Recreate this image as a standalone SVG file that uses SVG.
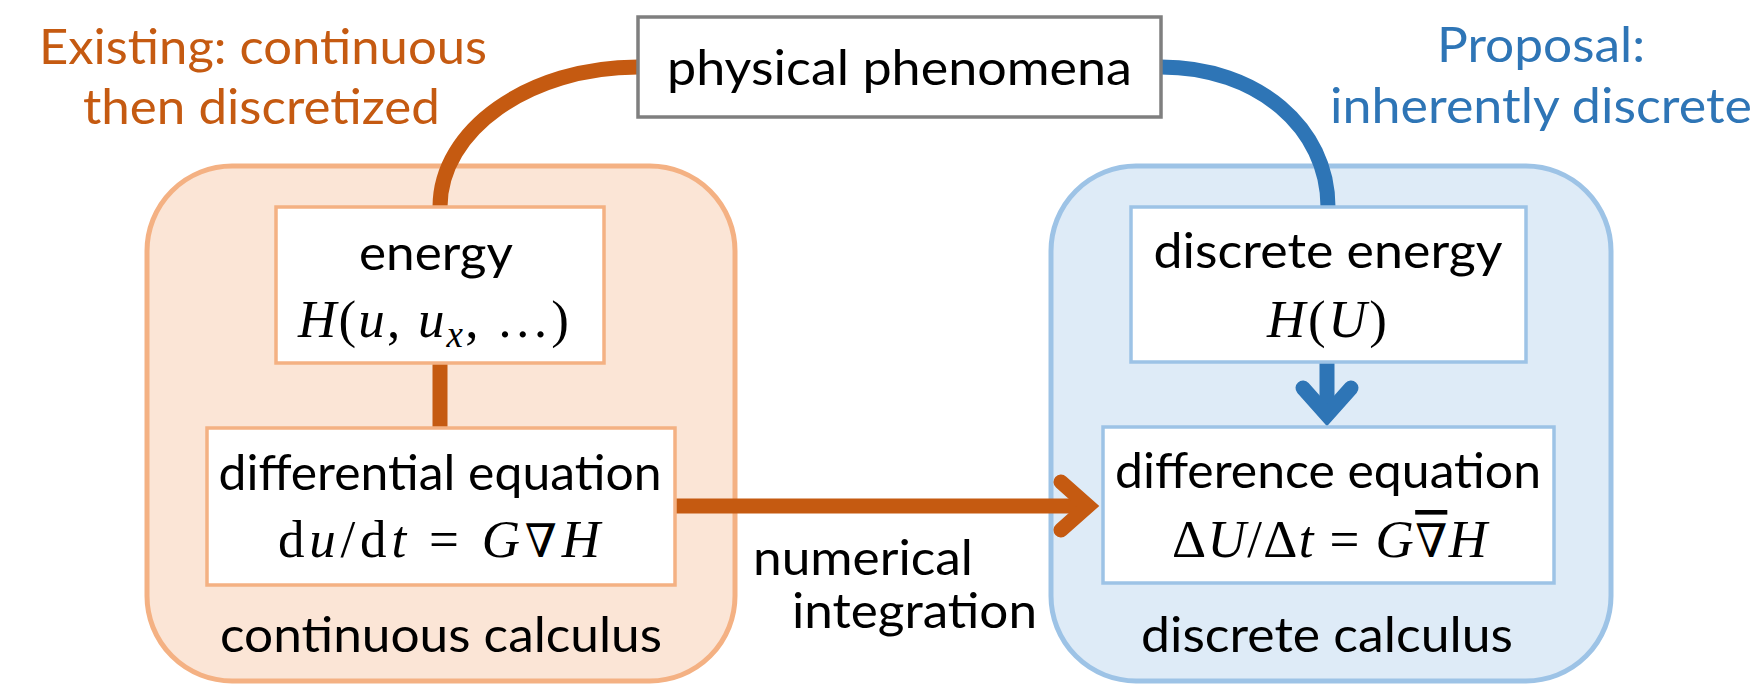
<svg xmlns="http://www.w3.org/2000/svg" width="1758" height="684" viewBox="0 0 1758 684">
  <style>
    .lbl { font-family: Lato, "Open Sans", "Liberation Sans", sans-serif; font-size: 49px; fill: #000; }
    .orange-t { fill: #c55a11; }
    .blue-t { fill: #2e75b6; }
    .math { font-family: "Liberation Serif", "DejaVu Serif", serif; font-size: 53px; fill: #000; }
    .it { font-style: italic; }
    .nab { font-family: "DejaVu Serif", serif; font-style: italic; font-weight: normal; font-size: 46px; }
    .cont-o { fill: #fbe5d6; stroke: #f4b183; stroke-width: 5; }
    .cont-b { fill: #deebf7; stroke: #9dc3e6; stroke-width: 5; }
    .box-o { fill: #fff; stroke: #f4b183; stroke-width: 3.5; }
    .box-b { fill: #fff; stroke: #9dc3e6; stroke-width: 3.5; }
    .box-g { fill: #fff; stroke: #7f7f7f; stroke-width: 3.5; }
    .c-o { fill: none; stroke: #c55a11; stroke-width: 15; }
    .c-b { fill: none; stroke: #2e75b6; stroke-width: 15; }
  </style>
  <defs>
    <marker id="arrO" markerUnits="userSpaceOnUse" orient="auto" refX="0" refY="0" markerWidth="80" markerHeight="80" overflow="visible">
      <path d="M-27,-24 L0,0 L-27,24" fill="none" stroke="#c55a11" stroke-width="15" stroke-linecap="round" stroke-linejoin="miter" stroke-miterlimit="10"/>
    </marker>
    <marker id="arrB" markerUnits="userSpaceOnUse" orient="auto" refX="0" refY="0" markerWidth="80" markerHeight="80" overflow="visible">
      <path d="M-27,-24 L0,0 L-27,24" fill="none" stroke="#2e75b6" stroke-width="15" stroke-linecap="round" stroke-linejoin="miter" stroke-miterlimit="10"/>
    </marker>
  </defs>

  <g id="continuous-calculus">
    <rect class="cont-o" x="147" y="166" width="588" height="515" rx="85" ry="85"/>
    <text class="lbl" x="441" y="652" text-anchor="middle" textLength="442" lengthAdjust="spacingAndGlyphs">continuous calculus</text>
  </g>
  <g id="discrete-calculus">
    <rect class="cont-b" x="1051" y="166" width="560" height="515" rx="85" ry="85"/>
    <text class="lbl" x="1327" y="652" text-anchor="middle" textLength="372" lengthAdjust="spacingAndGlyphs">discrete calculus</text>
  </g>

  <g id="labels">
    <text class="lbl orange-t" x="263" y="64" text-anchor="middle" textLength="448" lengthAdjust="spacingAndGlyphs">Existing: continuous</text>
    <text class="lbl orange-t" x="261.5" y="124" text-anchor="middle" textLength="357" lengthAdjust="spacingAndGlyphs">then discretized</text>
    <text class="lbl blue-t" x="1541" y="62" text-anchor="middle" textLength="208" lengthAdjust="spacingAndGlyphs">Proposal:</text>
    <text class="lbl blue-t" x="1541" y="123" text-anchor="middle" textLength="422" lengthAdjust="spacingAndGlyphs">inherently discrete</text>
    <text class="lbl" x="753" y="575" textLength="220" lengthAdjust="spacingAndGlyphs">numerical</text>
    <text class="lbl" x="792" y="628" textLength="245" lengthAdjust="spacingAndGlyphs">integration</text>
  </g>

  <g id="connectors">
    <path class="c-o" d="M638,67 C529,67 440,130 440,207"/>
    <path class="c-b" d="M1161,67 C1258,67 1328,128 1328,207"/>
    <path class="c-o" d="M440,363 L440,428"/>
    <path class="c-b" d="M1327,362 L1327,415" marker-end="url(#arrB)"/>
    <path class="c-o" d="M675,506 L1088,506" marker-end="url(#arrO)"/>
  </g>

  <g id="physical-phenomena">
    <rect class="box-g" x="638" y="17" width="523" height="100"/>
    <text class="lbl" x="899.5" y="85" text-anchor="middle" textLength="465" lengthAdjust="spacingAndGlyphs">physical phenomena</text>
  </g>

  <g id="energy">
    <rect class="box-o" x="276" y="207" width="328" height="156"/>
    <text class="lbl" x="436" y="270" text-anchor="middle" textLength="154" lengthAdjust="spacingAndGlyphs">energy</text>
    <text class="math" x="298" y="337" textLength="271" lengthAdjust="spacing"><tspan class="it">H</tspan>(<tspan class="it">u</tspan>, <tspan class="it">u</tspan><tspan class="it" font-size="37" dy="10">x</tspan><tspan dy="-10">, …)</tspan></text>
  </g>

  <g id="differential-equation">
    <rect class="box-o" x="207" y="428" width="468" height="157"/>
    <text class="lbl" x="440" y="490" text-anchor="middle" textLength="443" lengthAdjust="spacingAndGlyphs">differential equation</text>
    <text class="math" x="278" y="557" textLength="322" lengthAdjust="spacing">d<tspan class="it">u</tspan>/d<tspan class="it">t</tspan> = <tspan class="it">G</tspan><tspan class="nab">∇</tspan><tspan class="it">H</tspan></text>
  </g>

  <g id="discrete-energy">
    <rect class="box-b" x="1131" y="207" width="395" height="155"/>
    <text class="lbl" x="1328" y="268" text-anchor="middle" textLength="349" lengthAdjust="spacingAndGlyphs">discrete energy</text>
    <text class="math" x="1267" y="337" textLength="120" lengthAdjust="spacing"><tspan class="it">H</tspan>(<tspan class="it">U</tspan>)</text>
  </g>

  <g id="difference-equation">
    <rect class="box-b" x="1103" y="427" width="451" height="156"/>
    <text class="lbl" x="1328" y="488" text-anchor="middle" textLength="426" lengthAdjust="spacingAndGlyphs">difference equation</text>
    <text class="math" x="1172" y="557" textLength="315" lengthAdjust="spacing">Δ<tspan class="it">U</tspan>/Δ<tspan class="it">t</tspan> = <tspan class="it">G</tspan><tspan class="nab" text-decoration="overline">∇</tspan><tspan class="it">H</tspan></text>
  </g>
</svg>
